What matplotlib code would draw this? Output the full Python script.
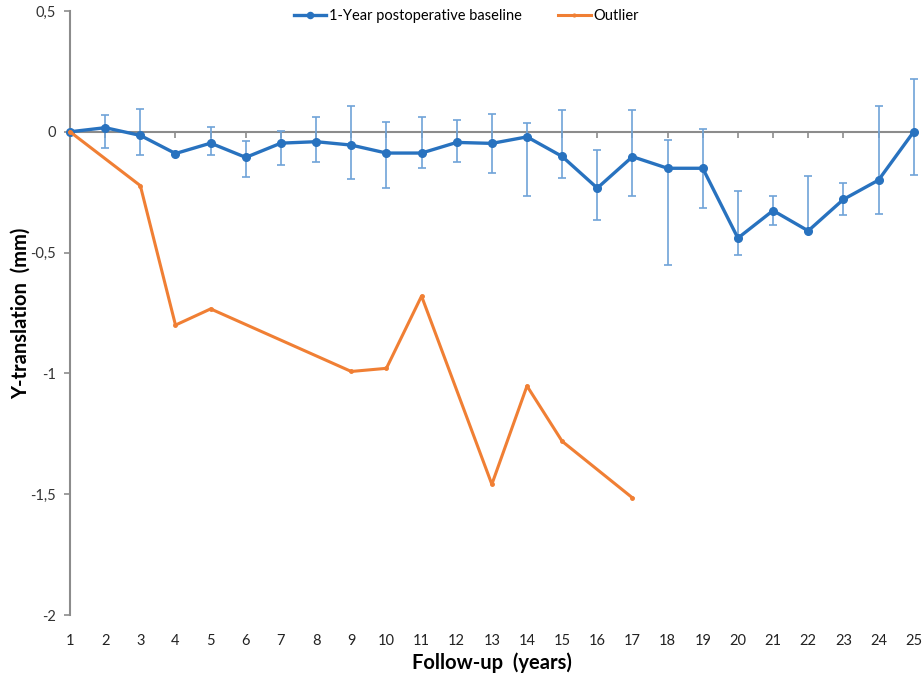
import numpy as np
import matplotlib
matplotlib.use("Agg")
import matplotlib.pyplot as plt

plt.rcParams["font.family"] = ["Lato", "DejaVu Sans"]

# follow-up years and mean Y-translation (mm)
years = list(range(1, 26))
baseline = [0.0, 0.017, -0.015, -0.09, -0.047, -0.106, -0.047, -0.041, -0.055, -0.088,
            -0.088, -0.044, -0.048, -0.021, -0.102, -0.233, -0.103, -0.151, -0.151, -0.44,
            -0.326, -0.41, -0.28, -0.2, 0.0]
# error bar ends (None = no bar)
bar_hi = [None, 0.07, 0.094, None, 0.018, -0.037, 0.004, 0.063, 0.106, 0.041,
          0.063, 0.048, 0.074, 0.036, 0.09, -0.074, 0.09, -0.034, 0.01, -0.244,
          -0.266, -0.183, -0.213, 0.105, 0.218]
bar_lo = [None, -0.069, -0.095, None, -0.095, -0.189, -0.136, -0.123, -0.197, -0.233,
          -0.149, -0.127, -0.169, -0.266, -0.191, -0.366, -0.266, -0.55, -0.317, -0.51,
          -0.387, -0.41, -0.343, -0.34, -0.179]

outlier_years = [1, 3, 4, 5, 9, 10, 11, 13, 14, 15, 17]
outlier = [0.0, -0.223, -0.80, -0.733, -0.992, -0.979, -0.68, -1.459, -1.052, -1.281, -1.515]

yticks = [0.5, 0, -0.5, -1, -1.5, -2]
ytick_labels = ["0,5", "0", "-0,5", "-1", "-1,5", "-2"]

BLUE = "#2872BF"
BAR_BLUE = "#6FA3D8"
ORANGE = "#F07F34"
AXIS_GRAY = "#8C8C8C"

y = np.array(baseline)
hi = np.array([np.nan if v is None else v for v in bar_hi])
lo = np.array([np.nan if v is None else v for v in bar_lo])
yerr = np.vstack([y - lo, hi - y])

fig = plt.figure(figsize=(9.24, 6.78), dpi=100)
ax = fig.add_axes([0.0758, 0.0929, 0.913, 0.8909])

ax.errorbar(years, y, yerr=yerr, fmt="none", ecolor=BAR_BLUE, elinewidth=1.2,
            capsize=3, capthick=1.2, zorder=2, clip_on=False)
ax.plot(years, y, color=BLUE, lw=2.4, marker="o", ms=5.5, zorder=3, clip_on=False,
        label="1-Year postoperative baseline")
ax.plot(outlier_years, outlier, color=ORANGE, lw=2.2, marker="o", ms=2.5, zorder=4,
        clip_on=False, label="Outlier")

ax.set_xlim(1, 25)
ax.set_ylim(-2, 0.5)

# x axis sits on the zero line, tick labels stay at the bottom
for s in ("top", "right"):
    ax.spines[s].set_visible(False)
ax.spines["bottom"].set_position(("data", 0))
ax.spines["bottom"].set_color(AXIS_GRAY)
ax.spines["bottom"].set_linewidth(1.5)
ax.spines["bottom"].set_zorder(1)
ax.spines["left"].set_color(AXIS_GRAY)
ax.spines["left"].set_linewidth(1.5)
ax.set_xticks(years)
ax.tick_params(axis="x", direction="out", length=4, width=1.2, color=AXIS_GRAY,
               labelbottom=False)
ax.set_yticks(yticks)
ax.set_yticklabels(ytick_labels)
ax.tick_params(axis="y", direction="out", length=4, width=1.2, color=AXIS_GRAY,
               labelsize=10.5, labelcolor="#333333", pad=6)

sec = ax.secondary_xaxis(0)
sec.set_xticks(years)
sec.spines["bottom"].set_visible(False)
sec.tick_params(length=0, labelsize=10.5, labelcolor="#222222", pad=14)

ax.set_xlabel("Follow-up  (years)", fontsize=14.5, fontweight="bold")
ax.xaxis.set_label_coords(0.5, -0.062)
ax.set_ylabel("Y-translation  (mm)", fontsize=14.5, fontweight="bold")
ax.yaxis.set_label_coords(-0.047, 0.5)

ax.legend(loc="center", bbox_to_anchor=(0.47, 0.992), ncol=2, frameon=False,
          fontsize=10.5, handlelength=2.2, columnspacing=2.5, handletextpad=0.2,
          markerscale=0.8)

fig.savefig("out.png", dpi=100)
